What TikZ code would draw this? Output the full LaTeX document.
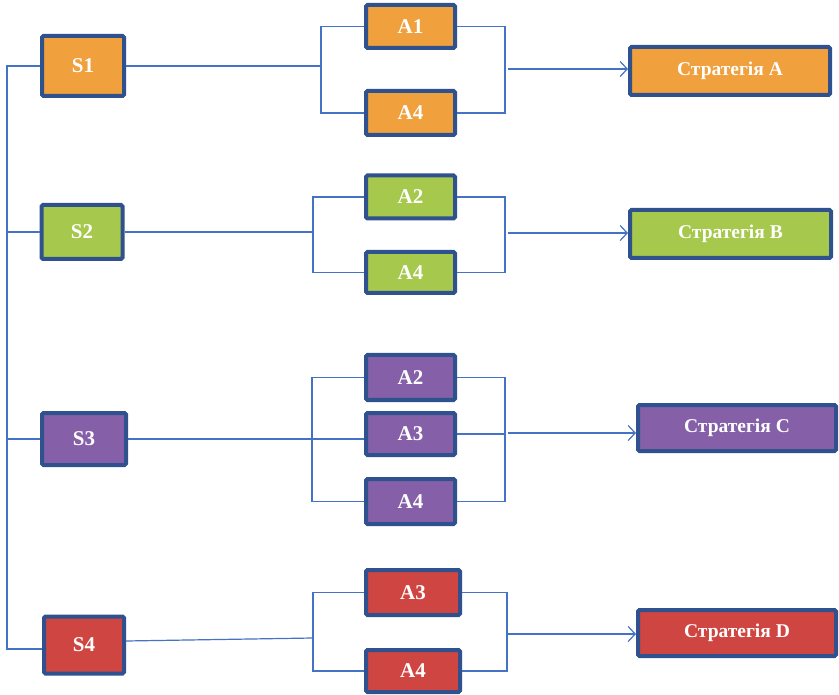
\documentclass[tikz,border=0pt]{standalone}
\usepackage{fontspec}
\setmainfont{Liberation Serif}
\usetikzlibrary{arrows.meta}
\definecolor{bord}{HTML}{2F528F}
\definecolor{lnk}{HTML}{4472C4}
\definecolor{cor}{HTML}{F0A03C}
\definecolor{cgr}{HTML}{A6C84C}
\definecolor{cpu}{HTML}{8560A8}
\definecolor{cre}{HTML}{CF4541}
\tikzset{
  box/.style={draw=bord, line width=4pt, rounded corners=1.5pt, inner sep=0pt,
    text=white, font=\bfseries\fontsize{21}{24}\selectfont},
  sbox/.style={box, font=\bfseries\fontsize{19.5}{22}\selectfont},
  lk/.style={draw=lnk, line width=1.2pt},
  ar/.style={lk, -{Straight Barb[length=7pt,width=15pt,line width=1.2pt]}}
}
\begin{document}
\begin{tikzpicture}[x=1pt,y=-1pt]
\useasboundingbox (0,0) rectangle (839,695);
% S nodes
\node[box, fill=cor, minimum width=82pt, minimum height=60pt] (S1) at (83,66) {S1};
\node[box, fill=cgr, minimum width=81pt, minimum height=54pt] (S2) at (82,232) {S2};
\node[box, fill=cpu, minimum width=84pt, minimum height=52pt] (S3) at (84,439) {S3};
\node[box, fill=cre, minimum width=80pt, minimum height=57pt] (S4) at (84,645) {S4};
% A nodes
\node[box, fill=cor, minimum width=89pt, minimum height=43pt] (A11) at (410.5,26.5) {A1};
\node[box, fill=cor, minimum width=89pt, minimum height=44pt] (A14) at (410.5,113) {A4};
\node[box, fill=cgr, minimum width=89pt, minimum height=43pt] (A22) at (410.5,197) {A2};
\node[box, fill=cgr, minimum width=89pt, minimum height=41pt] (A24) at (410.5,272.5) {A4};
\node[box, fill=cpu, minimum width=89pt, minimum height=45pt] (A32) at (410.5,377.5) {A2};
\node[box, fill=cpu, minimum width=89pt, minimum height=42pt] (A33) at (410.5,434) {A3};
\node[box, fill=cpu, minimum width=89pt, minimum height=45pt] (A34) at (410.5,501.5) {A4};
\node[box, fill=cre, minimum width=94pt, minimum height=45pt] (A43) at (413,592.5) {A3};
\node[box, fill=cre, minimum width=94pt, minimum height=42pt] (A44) at (413,671) {A4};
% Strategies
\node[sbox, fill=cor, minimum width=200pt, minimum height=48pt] (SA) at (730,71) {Стратегія A};
\node[sbox, fill=cgr, minimum width=201pt, minimum height=48pt] (SB) at (730.5,234) {Стратегія B};
\node[sbox, fill=cpu, minimum width=198pt, minimum height=46pt] (SC) at (737,428) {Стратегія C};
\node[sbox, fill=cre, minimum width=198pt, minimum height=46pt] (SD) at (737,633) {Стратегія D};
% left spine
\coordinate (Lt) at (7,66);
\coordinate (Lb) at (7,649);
\path[lk] (S1.west) -- (Lt) -- (Lb) -- (Lb -| S4.west);
\path[lk] (S2.west) -- (S2.west -| Lt);
\path[lk] (S3.west) -- (S3.west -| Lt);
% row 1
\coordinate (b1) at (321,66);
\coordinate (r1) at (505,69);
\path[lk] (S1.east) -- (b1);
\path[lk] (A11.west) -| (b1) |- (A14.west);
\path[lk] (A11.east) -| (r1) |- (A14.east);
\path[ar] ([xshift=3pt]r1) -- (r1 -| SA.west);
% row 2
\coordinate (b2) at (313,232);
\coordinate (r2) at (505,233);
\path[lk] (S2.east) -- (b2);
\path[lk] (A22.west) -| (b2) |- (A24.west);
\path[lk] (A22.east) -| (r2) |- (A24.east);
\path[ar] ([xshift=3pt]r2) -- (r2 -| SB.west);
% row 3
\coordinate (b3) at (312,439);
\coordinate (r3) at (505,433);
\path[lk] (S3.east) -- (S3.east -| A33.west);
\path[lk] (A32.west) -| (b3) |- (A34.west);
\path[lk] (A32.east) -| (r3) |- (A34.east);
\path[lk] (A33.east) -- (A33.east -| r3);
\path[ar] ([xshift=3pt]r3) -- (r3 -| SC.west);
% row 4
\coordinate (b4) at (313,638);
\coordinate (r4) at (507,634);
\path[lk] ([yshift=4pt]S4.east) -- (b4);
\path[lk] (A43.west) -| (b4) |- (A44.west);
\path[lk] (A43.east) -| (r4) |- (A44.east);
\path[ar] (r4) -- (r4 -| SD.west);
\end{tikzpicture}
\end{document}
